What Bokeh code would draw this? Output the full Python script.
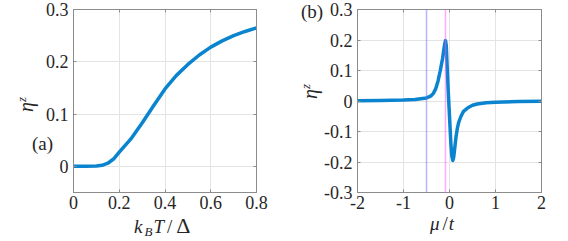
import math
from bokeh.plotting import figure
from bokeh.layouts import row
from bokeh.models import Range1d, FixedTicker, Span, Div, LinearAxis
from bokeh.embed import file_html
from bokeh.resources import INLINE

# ---- data: panel (a) ----
kT = [0.0, 0.05, 0.1, 0.125, 0.15, 0.175, 0.2, 0.25, 0.3, 0.35, 0.4, 0.45,
      0.5, 0.55, 0.6, 0.65, 0.7, 0.75, 0.8]
eta_a = [0.0, 0.0, 0.0005, 0.002, 0.006, 0.014, 0.027, 0.052, 0.083, 0.116,
         0.148, 0.174, 0.195, 0.213, 0.228, 0.240, 0.250, 0.258, 0.265]

# ---- data: panel (b) ----
mu = [-2.0, -1.5, -1.0, -0.75, -0.5, -0.4, -0.35, -0.3, -0.25, -0.2, -0.15,
      -0.12, -0.1, -0.087, -0.07, -0.05, -0.03, -0.01, 0.01, 0.03, 0.05,
      0.072, 0.09, 0.11, 0.14, 0.17, 0.2, 0.25, 0.3, 0.4, 0.5, 0.6, 0.8,
      1.0, 1.5, 2.0]
eta_b = [0.001, 0.002, 0.003, 0.005, 0.010, 0.017, 0.025, 0.040, 0.065,
         0.100, 0.140, 0.172, 0.190, 0.198, 0.180, 0.110, 0.040, -0.020,
         -0.080, -0.140, -0.180, -0.195, -0.185, -0.160, -0.120, -0.090,
         -0.070, -0.050, -0.035, -0.022, -0.014, -0.010, -0.006, -0.004,
         -0.002, -0.001]
vlines_b = [-0.5, -0.087]
vline_colors = ["#6f6fff", "#ff55ff"]

# ---- ticks ----
xticks_a = [0, 0.2, 0.4, 0.6, 0.8]
xlabels_a = ["0", "0.2", "0.4", "0.6", "0.8"]
yticks_a = [0, 0.1, 0.2, 0.3]
ylabels_a = ["0", "0.1", "0.2", "0.3"]
xticks_b = [-2, -1, 0, 1, 2]
xlabels_b = ["-2", "-1", "0", "1", "2"]
yticks_b = [-0.3, -0.2, -0.1, 0, 0.1, 0.2, 0.3]
ylabels_b = ["-0.3", "-0.2", "-0.1", "0", "0.1", "0.2", "0.3"]

LINE = "#0a84cf"
AX = "#8c8c8c"
AXFONT = "serif"
FONT = "'Liberation Serif', serif"
TXT = "#262626"
H = 241


def style(p, xt, xl, yt, yl):
    p.outline_line_color = AX
    p.outline_line_width = 1
    p.add_layout(LinearAxis(), "above")
    p.add_layout(LinearAxis(), "right")
    for ax in p.axis:
        ax.axis_line_color = AX
        ax.major_tick_line_color = AX
        ax.major_tick_in = 3
        ax.major_tick_out = 0
        ax.minor_tick_line_color = None
        ax.major_label_text_font = AXFONT
        ax.major_label_text_font_size = "18px"
        ax.major_label_text_color = TXT
    for ax in p.xaxis:
        ax.ticker = FixedTicker(ticks=xt)
        ax.major_label_overrides = {v: s for v, s in zip(xt, xl)}
        ax.major_label_standoff = 3
    for ax in p.yaxis:
        ax.ticker = FixedTicker(ticks=yt)
        ax.major_label_overrides = {v: s for v, s in zip(yt, yl)}
        ax.major_label_standoff = 5
    for ax in (p.above[0], p.right[0]):
        ax.major_label_text_color = None
        ax.major_label_text_font_size = "1px"
        ax.major_label_standoff = 0
    p.grid.grid_line_color = "#e4e4e4"
    p.grid.grid_line_width = 1


# ---- panel (a) ----
p1 = figure(width=300, height=H, output_backend="svg", toolbar_location=None,
            x_range=Range1d(0, 0.8), y_range=Range1d(-0.05, 0.3),
            min_border_left=73, min_border_right=44, min_border_top=9,
            min_border_bottom=H - 9 - 183)
style(p1, xticks_a, xlabels_a, yticks_a, ylabels_a)
p1.line(kT, eta_a, line_color=LINE, line_width=3.5, line_join="round", line_cap="round")

# ---- panel (b) ----
p2 = figure(width=267, height=H, output_backend="svg", toolbar_location=None,
            x_range=Range1d(-2, 2), y_range=Range1d(-0.3, 0.3),
            min_border_left=57, min_border_right=26, min_border_top=9,
            min_border_bottom=H - 9 - 183)
style(p2, xticks_b, xlabels_b, yticks_b, ylabels_b)
for loc, col in zip(vlines_b, vline_colors):
    p2.add_layout(Span(location=loc, dimension="height", line_color=col,
                       line_width=1.5, line_dash="1 1"))
p2.line(mu, eta_b, line_color=LINE, line_width=3.5, line_join="round", line_cap="round")

# ---- axis labels as HTML text, overlaid from a 1px Div at the row's end ----
OX = 567  # page x of the overlay div
DY = -10  # correction of the overlay's vertical origin


def span(x, top, html, size=20, extra=""):
    return (f'<span style="position:absolute;left:{x - OX}px;top:{top + DY}px;'
            f'font-family:{FONT};font-size:{size}px;line-height:{size}px;'
            f'color:{TXT};white-space:nowrap;{extra}">{html}</span>')


def top_for(baseline, size):
    return baseline - 0.8375 * size


xlab_a = ('<i>k</i><sub style="font-size:13px;vertical-align:-3px;line-height:0;'
          'margin-left:2px"><i>B</i></sub><i style="margin-left:1px">T</i>'
          '<span style="margin-left:3px">/</span>'
          '<span style="margin-left:4px;font-size:22px">Δ</span>')
xlab_b = ('<i>μ</i><span style="margin-left:3px">/</span>'
          '<i style="margin-left:1px">t</i>')
ylab = ('<i>η</i><sup style="font-size:13px;vertical-align:7px;line-height:0">'
        '<i>z</i></sup>')
rot = "transform:rotate(-90deg);transform-origin:left top;"

parts = [
    span(134, top_for(230, 19), xlab_a, size=19),
    span(430, top_for(228, 19), xlab_b, size=19),
    span(33 - 16.75, 110, ylab, extra=rot),
    span(317 - 16.75, 97, ylab, extra=rot),
    span(32, top_for(148, 19), "(a)", size=19),
    span(301, top_for(16, 19), "(b)", size=19),
]
overlay = Div(text='<div style="position:relative;width:0;height:0;overflow:visible">'
              + "".join(parts) + "</div>",
              width=1, height=1, margin=0, styles={"overflow": "visible"})

layout = row(p1, p2, overlay)
open("out.html", "w").write(file_html(layout, INLINE))
